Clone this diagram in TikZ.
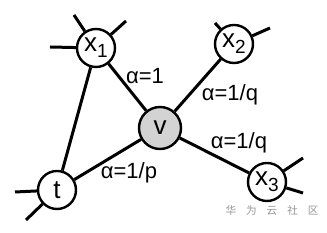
\documentclass[tikz,border=0pt]{standalone}
\usepackage{fontspec}
\setmainfont{Liberation Sans}
\newfontfamily\cjk{Noto Sans CJK SC}
\usetikzlibrary{backgrounds}
\definecolor{ink}{RGB}{0,0,0}
\definecolor{centerfill}{RGB}{211,211,211}
\definecolor{wmark}{RGB}{150,150,150}
\newcommand{\lowsub}[1]{\raisebox{-0.45ex}{\fontsize{9.5}{10}\selectfont #1}}
\tikzset{
    line cap=round,
    walknode/.style={
        circle,
        draw=ink,
        line width=1.2pt,
        fill=white,
        minimum size=19pt,
        inner sep=0pt,
        font=\fontsize{13}{14}\selectfont
    },
    currentnode/.style={walknode, fill=centerfill, minimum size=21pt},
    link/.style={draw=ink, line width=1.5pt},
    stub/.style={draw=ink, line width=1.5pt},
    weight/.style={font=\fontsize{11}{13}\selectfont, inner sep=1pt},
    watermark/.style={font=\cjk\fontsize{5.3}{6}\selectfont, text=wmark}
}
\begin{document}
\begin{tikzpicture}[x=0.5pt, y=-0.5pt,
    show background rectangle,
    background rectangle/.style={fill=white}]
\useasboundingbox (0,0) rectangle (327,233);

% Nodes
\node[walknode] (x1) at (96,48) {x\lowsub{1}};
\node[walknode] (x2) at (234,44) {x\lowsub{2}};
\node[currentnode] (v) at (160,128) {v};
\node[walknode] (t) at (57,190) {t};
\node[walknode] (x3) at (267,182) {x\lowsub{3}};

% Free ends of the outgoing stubs
\coordinate (x1w) at (50,47);
\coordinate (x1nw) at (74,15);
\coordinate (x1ne) at (126,21);
\coordinate (x2nw) at (215,23);
\coordinate (x2ne) at (270,28);
\coordinate (tw) at (15,192);
\coordinate (tsw) at (26,220);
\coordinate (x3ne) at (303,158);
\coordinate (x3e) at (303,193);

% Edges
\draw[link] (t) -- (x1);
\draw[link] (x1) -- (v);
\draw[link] (x2) -- (v);
\draw[link] (t) -- (v);
\draw[link] (x3) -- (v);

% Stubs
\foreach \n/\e in {x1/x1w, x1/x1nw, x1/x1ne, x2/x2nw, x2/x2ne, t/tw, t/tsw, x3/x3ne, x3/x3e}
    \draw[stub] (\n) -- (\e);

% Weights
\node[weight] (wx1) at (145,76) {α=1};
\node[weight] (wx2) at (230,95) {α=1/q};
\node[weight] (wx3) at (239,143) {α=1/q};
\node[weight] (wt) at (129,173) {α=1/p};

% Watermark
\node[watermark] (wm) at (272,210) {华\hspace{5pt}为\hspace{5pt}云\hspace{5pt}社\hspace{5pt}区};
\end{tikzpicture}
\end{document}
